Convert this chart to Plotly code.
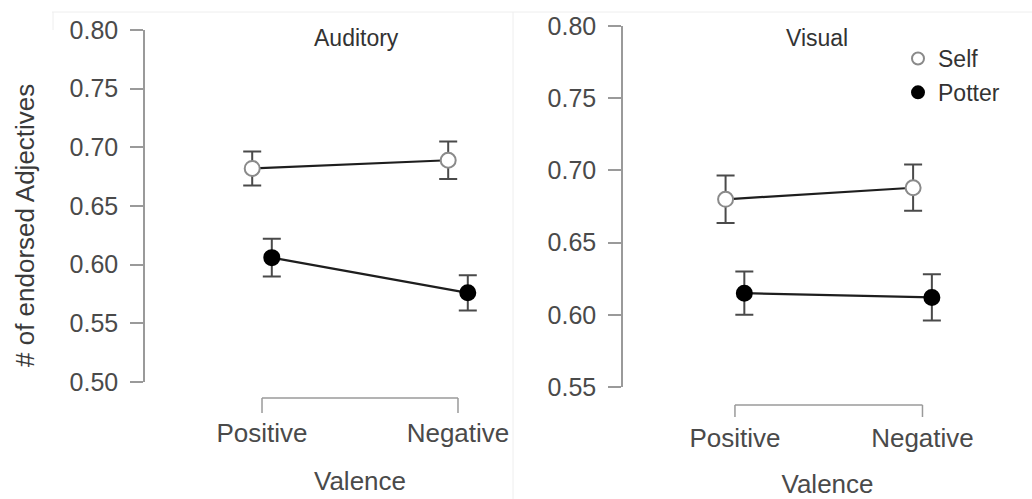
import plotly.graph_objects as go

# ---- data ----
categories = ["Positive", "Negative"]
panels = ["Auditory", "Visual"]
groups = ["Self", "Potter"]
y_title = "# of endorsed Adjectives"
x_title = "Valence"

aud_self = [0.682, 0.689]
aud_self_err = [0.0145, 0.016]
aud_potter = [0.606, 0.576]
aud_potter_err = [0.016, 0.015]

vis_self = [0.680, 0.688]
vis_self_err = [0.0165, 0.016]
vis_potter = [0.615, 0.612]
vis_potter_err = [0.015, 0.016]

left_ticks = [0.50, 0.55, 0.60, 0.65, 0.70, 0.75, 0.80]
right_ticks = [0.55, 0.60, 0.65, 0.70, 0.75, 0.80]

FONT = "Liberation Sans, Arial, sans-serif"
dodge = 0.05
xpos = [0, 1]

fig = go.Figure()

def add_group(vals, errs, name, xa, ya, filled, show):
    xs = [p + (dodge if filled else -dodge) for p in xpos]
    fig.add_trace(go.Scatter(
        x=xs, y=vals, mode="lines", xaxis=xa, yaxis=ya, showlegend=False,
        legendgroup=name, hoverinfo="skip",
        line=dict(color="#1e1e1e", width=2.2),
    ))
    fig.add_trace(go.Scatter(
        x=xs, y=vals, name=name, mode="markers",
        xaxis=xa, yaxis=ya, showlegend=show, legendgroup=name,
        marker=dict(size=15,
                    color="#000000" if filled else "#ffffff",
                    line=dict(color="#000000" if filled else "#8a8a8a", width=2),
                    symbol="circle"),
        error_y=dict(type="data", array=errs, visible=True,
                     color="#4a4a4a", thickness=2, width=9),
    ))

add_group(aud_self, aud_self_err, groups[0], "x", "y", False, False)
add_group(aud_potter, aud_potter_err, groups[1], "x", "y", True, False)
add_group(vis_self, vis_self_err, groups[0], "x2", "y2", False, True)
add_group(vis_potter, vis_potter_err, groups[1], "x2", "y2", True, True)

W, H = 1032, 499
def px(x):
    return x / W
def py(y):
    return 1 - y / H

tickfont = dict(family=FONT, size=25, color="#4a4a4a")
xtickfont = dict(family=FONT, size=26, color="#4a4a4a")
titlefont = dict(family=FONT, size=26, color="#4a4a4a")

fig.update_layout(
    width=W, height=H,
    margin=dict(l=0, r=0, t=0, b=0),
    paper_bgcolor="white", plot_bgcolor="rgba(0,0,0,0)",
    showlegend=True,
    legend=dict(x=px(898), y=py(37), xanchor="left", yanchor="top",
                font=dict(family=FONT, size=23, color="#333333"),
                bgcolor="rgba(0,0,0,0)", tracegroupgap=1, itemwidth=30,
                itemsizing="constant"),
    xaxis=dict(domain=[px(145), px(575)], range=[-0.597, 1.597],
               tickvals=xpos, ticktext=categories, ticks="", showline=False,
               showgrid=False, zeroline=False, tickfont=xtickfont,
               ticklabelstandoff=33, automargin=False,
               title=dict(text=x_title, font=titlefont, standoff=24)),
    yaxis=dict(domain=[py(382), py(30)], range=[0.50, 0.80],
               tickvals=left_ticks, tickformat=".2f", ticks="outside", ticklen=13,
               tickcolor="#9a9a9a", tickwidth=1.5, showline=True,
               linecolor="#9a9a9a", linewidth=1.5, showgrid=False, zeroline=False,
               tickfont=tickfont, anchor="x", automargin=False,
               ticklabelstandoff=7),
    xaxis2=dict(domain=[px(623), 1.0], range=[-0.597, 1.584],
                tickvals=xpos, ticktext=categories, ticks="", showline=False,
                showgrid=False, zeroline=False, tickfont=xtickfont,
                ticklabelstandoff=33, anchor="y2", automargin=False,
                title=dict(text=x_title, font=titlefont, standoff=26)),
    yaxis2=dict(domain=[py(387), py(26)], range=[0.55, 0.80],
                tickvals=right_ticks, tickformat=".2f", ticks="outside", ticklen=13,
                tickcolor="#9a9a9a", tickwidth=1.5, showline=True,
                linecolor="#9a9a9a", linewidth=1.5, showgrid=False, zeroline=False,
                tickfont=tickfont, anchor="x2", automargin=False,
                ticklabelstandoff=7),
)

# y-axis title (shared, placed like the original)
fig.add_annotation(text=y_title, textangle=-90, x=px(25), y=py(226),
                   xref="paper", yref="paper", xanchor="center", yanchor="middle",
                   showarrow=False, font=dict(family=FONT, size=26, color="#3a3a3a"))

# panel titles
fig.add_annotation(text=panels[0], x=0.48, xref="x", y=py(38), yref="paper",
                   yanchor="middle", xanchor="center",
                   showarrow=False, font=dict(family=FONT, size=23, color="#333333"))
fig.add_annotation(text=panels[1], x=0.44, xref="x2", y=py(38), yref="paper",
                   yanchor="middle", xanchor="center",
                   showarrow=False, font=dict(family=FONT, size=23, color="#333333"))

# x-axis brackets
bracket_style = dict(color="#9a9a9a", width=1.5)
for xr, ytop, ybot in [("x", py(398), py(413)), ("x2", py(405), py(417))]:
    fig.add_shape(type="line", xref=xr, yref="paper", x0=xpos[0], x1=xpos[1],
                  y0=ytop, y1=ytop, line=bracket_style)
    for p in xpos:
        fig.add_shape(type="line", xref=xr, yref="paper", x0=p, x1=p,
                      y0=ytop, y1=ybot, line=bracket_style)

# faint frame lines of the original screenshot
faint = dict(color="#eeeeee", width=1)
fig.add_shape(type="line", xref="paper", yref="paper", x0=px(52), x1=1,
              y0=py(12), y1=py(12), line=faint)
fig.add_shape(type="line", xref="paper", yref="paper", x0=px(53), x1=px(53),
              y0=py(12), y1=py(30), line=faint)
fig.add_shape(type="line", xref="paper", yref="paper", x0=px(513), x1=px(513),
              y0=py(12), y1=0, line=faint)

fig.write_html("out.html", config={"displayModeBar": False},
               post_script="document.body.style.margin='0';document.body.style.overflow='hidden';")
